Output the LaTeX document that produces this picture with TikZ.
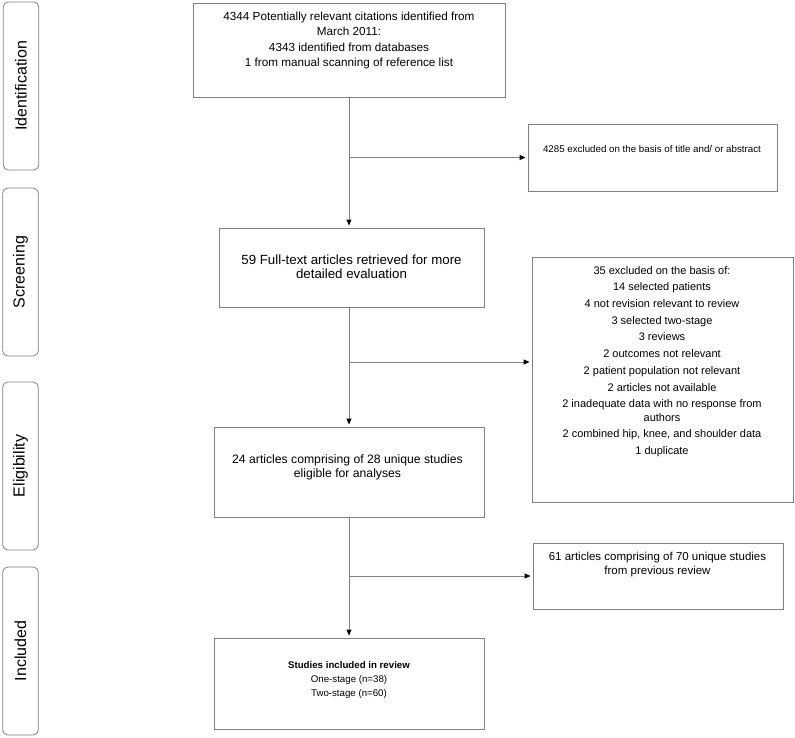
\documentclass[tikz,border=0pt]{standalone}
\usepackage{fontspec}
\setmainfont{Liberation Sans}
\usetikzlibrary{arrows.meta}
\definecolor{linegray}{gray}{0.5}
\tikzset{
  stagebox/.style={draw=linegray, line width=0.8pt, rounded corners=5pt, rotate=90,
    minimum width=168pt, minimum height=35.5pt, inner sep=0pt, font=\fontsize{16}{19}\selectfont},
  flowbox/.style={draw=linegray, line width=0.9pt, inner sep=0pt},
  flowline/.style={draw=linegray, line width=0.9pt},
  flowarrow/.style={flowline, shorten >=2pt, -{Triangle[length=6pt,width=5pt,black]}},
  flowtext/.style={align=center, inner sep=0pt},
}

\begin{document}
\begin{tikzpicture}[x=1pt,y=-1pt]
  \useasboundingbox (0,0) rectangle (795,737);

  % stage labels
  \node[stagebox] (stident) at (21,86) {Identification};
  \node[stagebox] (stscreen) at (20.5,272) {Screening};
  \node[stagebox] (stelig) at (20.5,466) {Eligibility};
  \node[stagebox] (stincl) at (20.5,651) {Included};

  % boxes
  \node[flowbox, minimum width=312pt, minimum height=94pt] (cit) at (349,50) {};
  \node[flowbox, minimum width=249pt, minimum height=67pt] (excl1) at (652.5,157.5) {};
  \node[flowbox, minimum width=265pt, minimum height=79pt] (screen) at (351.5,267.5) {};
  \node[flowbox, minimum width=261pt, minimum height=245pt] (excl2) at (662.5,379.5) {};
  \node[flowbox, minimum width=270pt, minimum height=90pt] (elig) at (349,472) {};
  \node[flowbox, minimum width=250pt, minimum height=66pt] (prev) at (658,576) {};
  \node[flowbox, minimum width=270pt, minimum height=91pt] (incl) at (349,683.5) {};

  % texts
  \node[flowtext, font=\fontsize{11.7}{15.3}\selectfont] (cittxt) at (349,40.5)
    {4344 Potentially relevant citations identified from\\March 2011:\\4343 identified from databases\\1 from manual scanning of reference list};
  \node[flowtext, font=\fontsize{9.75}{12}\selectfont] (excl1txt) at (652,149)
    {4285 excluded on the basis of title and/ or abstract};
  \node[flowtext, font=\fontsize{13.3}{14.3}\selectfont] (screentxt) at (351.5,267)
    {59 Full-text articles retrieved for more\\detailed evaluation};
  \node[flowtext, font=\fontsize{11}{13.5}\selectfont] (excl2txt) at (662,361.5)
    {35 excluded on the basis of:\\[3.2pt]14 selected patients\\[3.2pt]4 not revision relevant to review\\[3.2pt]3 selected two-stage\\[3.2pt]3 reviews\\[3.2pt]2 outcomes not relevant\\[3.2pt]2 patient population not relevant\\[3.2pt]2 articles not available\\[3.2pt]2 inadequate data with no response from\\authors\\[3.2pt]2 combined hip, knee, and shoulder data\\[3.2pt]1 duplicate};
  \node[flowtext, font=\fontsize{12.2}{14.3}\selectfont] (eligtxt) at (347.5,467)
    {24 articles comprising of 28 unique studies\\eligible for analyses};
  \node[flowtext, font=\fontsize{11.5}{14}\selectfont] (prevtxt) at (657.5,565)
    {61 articles comprising of 70 unique studies\\from previous review};
  \node[flowtext, font=\fontsize{9.7}{14}\selectfont] (incltxt) at (349,680)
    {\textbf{Studies included in review}\\One-stage (n=38)\\Two-stage (n=60)};

  % connectors
  \coordinate (b1) at (cit.south |- excl1.west);
  \coordinate (b2) at (349,362);
  \coordinate (b3) at (elig.south |- prev.west);
  \draw[flowarrow] (cit.south) -- (cit.south |- screen.north);
  \draw[flowarrow] (b1) -- (excl1.west);
  \draw[flowarrow] (screen.south -| elig.north) -- (elig.north);
  \draw[flowarrow] (b2) -- (b2 -| excl2.west);
  \draw[flowarrow] (elig.south) -- (incl.north);
  \draw[flowarrow] (b3) -- (prev.west);
\end{tikzpicture}
\end{document}
